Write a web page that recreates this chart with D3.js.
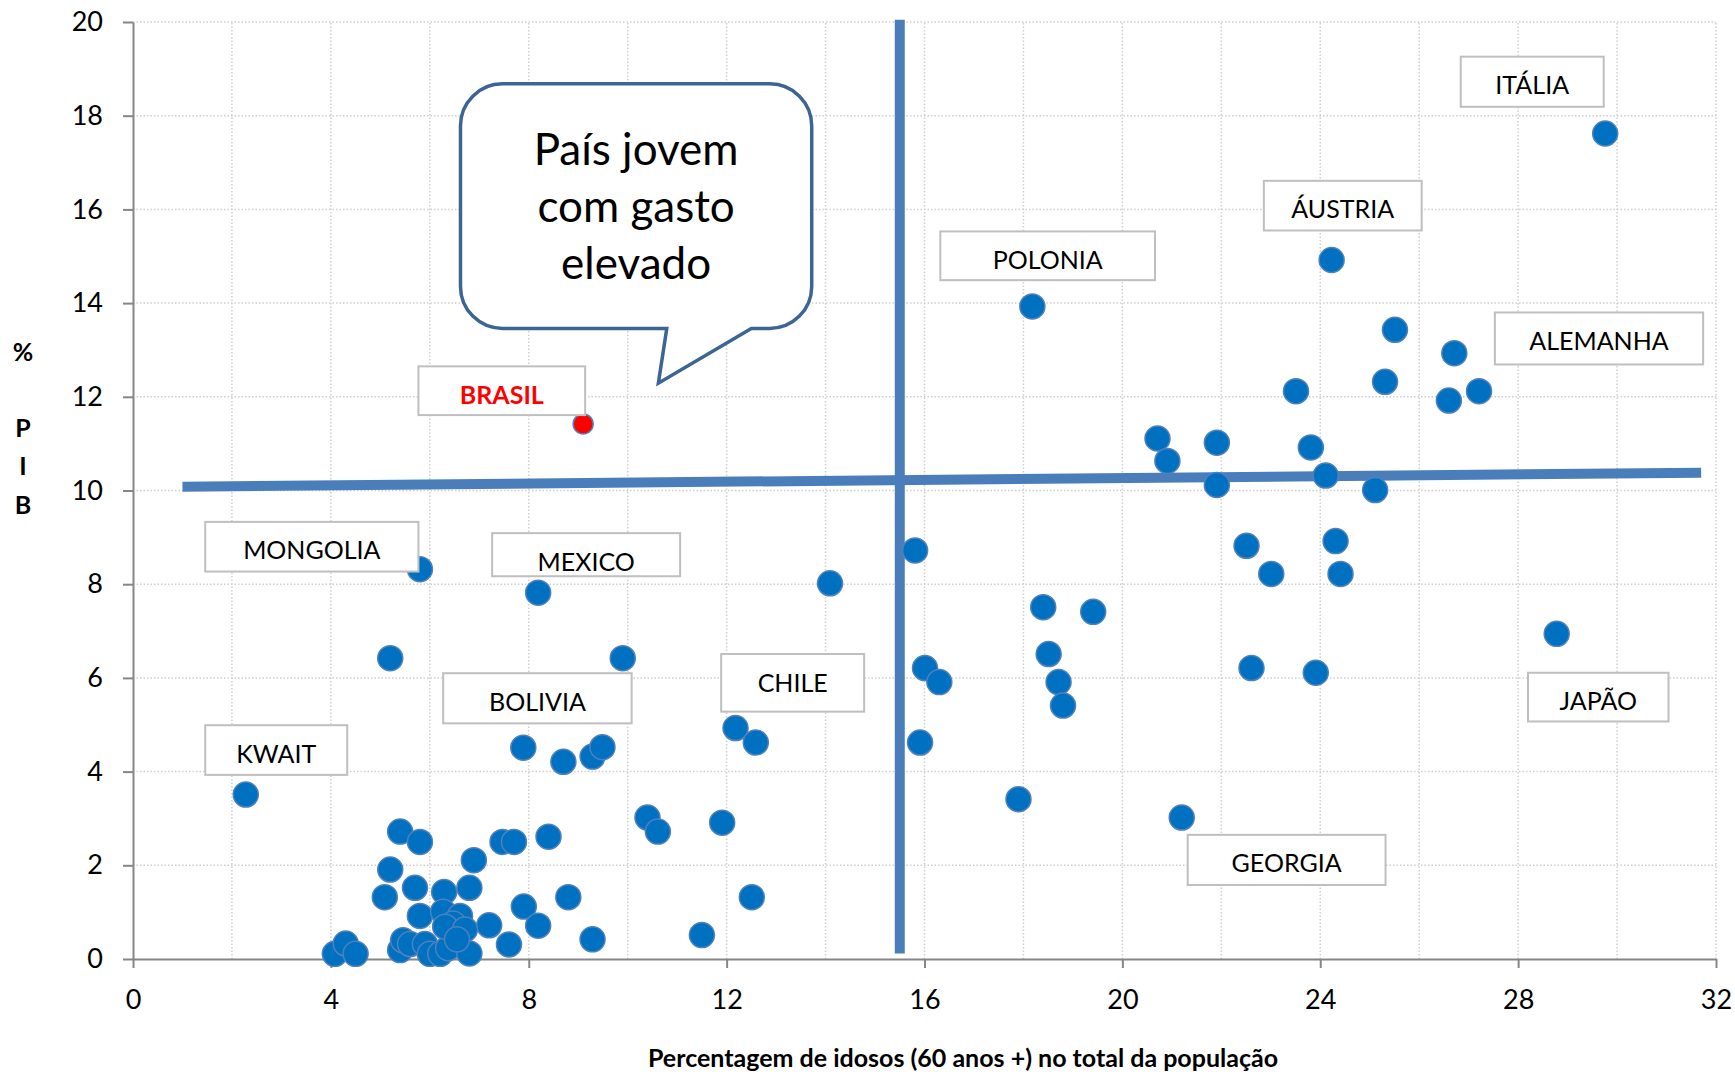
<!DOCTYPE html>
<html>
<head>
<meta charset="utf-8">
<script src="https://cdn.jsdelivr.net/npm/d3@7"></script>
<style>
    body { margin: 0; background: #fff }
    text { font-family: Lato, "Open Sans", sans-serif }
</style>
</head>
<body>
<script>

// valores: % de idosos (x) e gasto em % do PIB (y)
let idosos = [
    29.76, 24.23, 18.18, 25.51, 26.71, 27.21, 25.31, 26.60, 23.51, 20.71,
    20.91, 21.91, 23.81, 24.11, 21.91, 25.11, 22.51, 24.31, 23.01, 24.41,
    15.81, 14.09, 18.40, 19.41, 18.51, 18.71, 18.80, 16.01, 16.30, 15.91,
    22.61, 23.91, 28.78, 17.90, 21.20, 5.80, 8.19, 5.20, 9.90, 12.18,
    12.59, 7.89, 8.70, 9.29, 9.49, 2.28, 10.40, 10.61, 11.91, 12.51,
    11.50, 5.40, 5.80, 5.20, 5.09, 5.70, 5.80, 6.89, 7.47, 7.70,
    8.40, 6.29, 6.80, 7.90, 8.80, 8.19, 7.20, 7.60, 9.29, 4.08,
    4.30, 4.50, 5.40, 5.46, 5.60, 5.90, 6.00, 6.21, 6.37, 6.80,
    6.27, 6.61, 6.47, 6.31, 6.71, 6.55
]
let gastoPib = [
    17.62, 14.92, 13.93, 13.43, 12.93, 12.12, 12.32, 11.92, 12.12, 11.11,
    10.63, 11.02, 10.92, 10.32, 10.12, 10.01, 8.82, 8.92, 8.22, 8.22,
    8.72, 8.02, 7.51, 7.41, 6.51, 5.91, 5.41, 6.21, 5.91, 4.62,
    6.21, 6.11, 6.94, 3.41, 3.02, 8.32, 7.82, 6.42, 6.42, 4.93,
    4.62, 4.51, 4.21, 4.32, 4.52, 3.51, 3.02, 2.72, 2.91, 1.32,
    0.51, 2.72, 2.50, 1.91, 1.32, 1.52, 0.92, 2.11, 2.50, 2.50,
    2.61, 1.43, 1.52, 1.12, 1.32, 0.71, 0.72, 0.31, 0.42, 0.11,
    0.33, 0.11, 0.19, 0.40, 0.32, 0.32, 0.11, 0.11, 0.23, 0.12,
    1.01, 0.92, 0.76, 0.69, 0.63, 0.42
]
let brasil = {x: 9.10, y: 11.42}

// linhas de referência
let mediaX = [1.0, 31.7]
let mediaY = [10.08, 10.38]
let corteIdade = 15.5

let xTicks = [0, 4, 8, 12, 16, 20, 24, 28, 32]
let yTicks = [0, 2, 4, 6, 8, 10, 12, 14, 16, 18, 20]

let paises = ['ITÁLIA', 'ÁUSTRIA', 'POLONIA', 'ALEMANHA', 'BRASIL', 'MONGOLIA',
    'MEXICO', 'BOLIVIA', 'KWAIT', 'CHILE', 'JAPÃO', 'GEORGIA']

// caixas dos rótulos, em unidades do gráfico [x0, x1, yTopo, yBase]
let caixas = [
    [26.84, 29.73, 19.26, 18.19],
    [22.86, 26.05, 16.61, 15.55],
    [16.32, 20.66, 15.53, 14.49],
    [27.53, 31.74, 13.80, 12.69],
    [5.77, 9.14, 12.65, 11.61],
    [1.46, 5.77, 9.33, 8.27],
    [7.26, 11.06, 9.09, 8.17],
    [6.27, 10.08, 6.10, 5.03],
    [1.46, 4.33, 4.99, 3.93],
    [11.89, 14.78, 6.51, 5.28],
    [28.20, 31.04, 6.11, 5.07],
    [21.32, 25.32, 2.65, 1.58]
]

let balao = ['País jovem', 'com gasto', 'elevado']

let width = 1735
let height = 1072

let x = d3.scaleLinear([0, 32], [133, 1716])
let y = d3.scaleLinear([0, 20], [959, 22])

let svg = d3.select('body')
    .append('svg')
    .attr('width', width)
    .attr('height', height)

// grade pontilhada
let grid = svg.append('g')
    .attr('stroke', '#cfcfcf')
    .attr('stroke-width', 1.5)
    .attr('stroke-dasharray', '1.5,2')
grid.selectAll('.gv')
    .data(d3.range(2, 33, 2))
    .enter()
    .append('line')
    .attr('class', 'gv')
    .attr('x1', d => x(d)).attr('x2', d => x(d))
    .attr('y1', y(0)).attr('y2', y(20))
grid.selectAll('.gh')
    .data(d3.range(2, 21, 2))
    .enter()
    .append('line')
    .attr('class', 'gh')
    .attr('x1', x(0)).attr('x2', x(32))
    .attr('y1', d => y(d)).attr('y2', d => y(d))

// eixos
let xAxis = svg.append('g')
    .attr('transform', `translate(0,${y(0)})`)
    .call(d3.axisBottom(x).tickValues(xTicks).tickSize(9).tickPadding(22).tickSizeOuter(0))
let yAxis = svg.append('g')
    .attr('transform', `translate(${x(0)},0)`)
    .call(d3.axisLeft(y).tickValues(yTicks).tickSize(10).tickPadding(20).tickSizeOuter(0))

for (let ax of [xAxis, yAxis]) {
    ax.select('.domain').attr('stroke', '#868686').attr('stroke-width', 2)
    ax.selectAll('.tick line').attr('stroke', '#868686').attr('stroke-width', 2)
    ax.selectAll('.tick text')
        .attr('fill', '#000')
        .style('font-size', '27px')
        .style('font-family', 'Lato, sans-serif')
}

// linhas de referência (média)
svg.append('line')
    .attr('x1', x(mediaX[0])).attr('y1', y(mediaY[0]))
    .attr('x2', x(mediaX[1])).attr('y2', y(mediaY[1]))
    .attr('stroke', '#4a7ebb')
    .attr('stroke-width', 10)
svg.append('line')
    .attr('x1', x(corteIdade)).attr('x2', x(corteIdade))
    .attr('y1', y(0.12)).attr('y2', y(20.05))
    .attr('stroke', '#4a7ebb')
    .attr('stroke-width', 10)

// pontos
svg.append('g')
    .selectAll('circle')
    .data(idosos.map((v, i) => ({x: v, y: gastoPib[i]})))
    .enter()
    .append('circle')
    .attr('cx', d => x(d.x))
    .attr('cy', d => y(d.y))
    .attr('r', 12.5)
    .attr('fill', '#0070c0')
    .attr('stroke', '#4f81bd')
    .attr('stroke-width', 1.5)

svg.append('circle')
    .attr('cx', x(brasil.x))
    .attr('cy', y(brasil.y))
    .attr('r', 10)
    .attr('fill', '#ff0000')
    .attr('stroke', '#4f81bd')
    .attr('stroke-width', 1.5)

// rótulos dos países
let rot = svg.append('g')
    .selectAll('g')
    .data(paises.map((p, i) => ({nome: p, c: caixas[i]})))
    .enter()
    .append('g')

rot.append('rect')
    .attr('x', d => x(d.c[0]))
    .attr('y', d => y(d.c[2]))
    .attr('width', d => x(d.c[1]) - x(d.c[0]))
    .attr('height', d => y(d.c[3]) - y(d.c[2]))
    .attr('fill', '#fff')
    .attr('stroke', '#bfbfbf')
    .attr('stroke-width', 2)

rot.append('text')
    .text(d => d.nome)
    .attr('x', d => (x(d.c[0]) + x(d.c[1])) / 2)
    .attr('y', d => y(d.c[2]) + 37.5)
    .attr('text-anchor', 'middle')
    .style('font-size', '25px')
    .style('font-weight', d => d.nome == 'BRASIL' ? 'bold' : 'normal')
    .attr('fill', d => d.nome == 'BRASIL' ? '#ff0000' : '#000')

// balão
let L = x(6.62), R = x(13.72), T = y(18.68), B = y(13.46), r = 42
let b1 = x(10.79), b2 = x(12.50), tx = x(10.62), ty = y(12.29)
let caminho = `M${L + r},${T} H${R - r} A${r},${r} 0 0 1 ${R},${T + r} V${B - r}
    A${r},${r} 0 0 1 ${R - r},${B} H${b2} L${tx},${ty} L${b1},${B} H${L + r}
    A${r},${r} 0 0 1 ${L},${B - r} V${T + r} A${r},${r} 0 0 1 ${L + r},${T} Z`
svg.append('path')
    .attr('d', caminho)
    .attr('fill', '#fff')
    .attr('stroke', '#3c6494')
    .attr('stroke-width', 3.5)

svg.append('g')
    .selectAll('text')
    .data(balao)
    .enter()
    .append('text')
    .text(d => d)
    .attr('x', (L + R) / 2)
    .attr('y', (d, i) => T + 81 + i * 57)
    .attr('text-anchor', 'middle')
    .style('font-size', '44px')

// títulos dos eixos
svg.append('text')
    .text('Percentagem de idosos (60 anos +) no total da população')
    .attr('x', 963)
    .attr('y', 1067)
    .attr('text-anchor', 'middle')
    .style('font-size', '25px')
    .style('font-weight', 'bold')

svg.append('g')
    .selectAll('text')
    .data(['%', 'P', 'I', 'B'])
    .enter()
    .append('text')
    .text(d => d)
    .attr('x', 23)
    .attr('y', (d, i) => [361, 437, 475, 514][i])
    .attr('text-anchor', 'middle')
    .style('font-size', '25px')
    .style('font-weight', 'bold')

</script>
</body>
</html>
